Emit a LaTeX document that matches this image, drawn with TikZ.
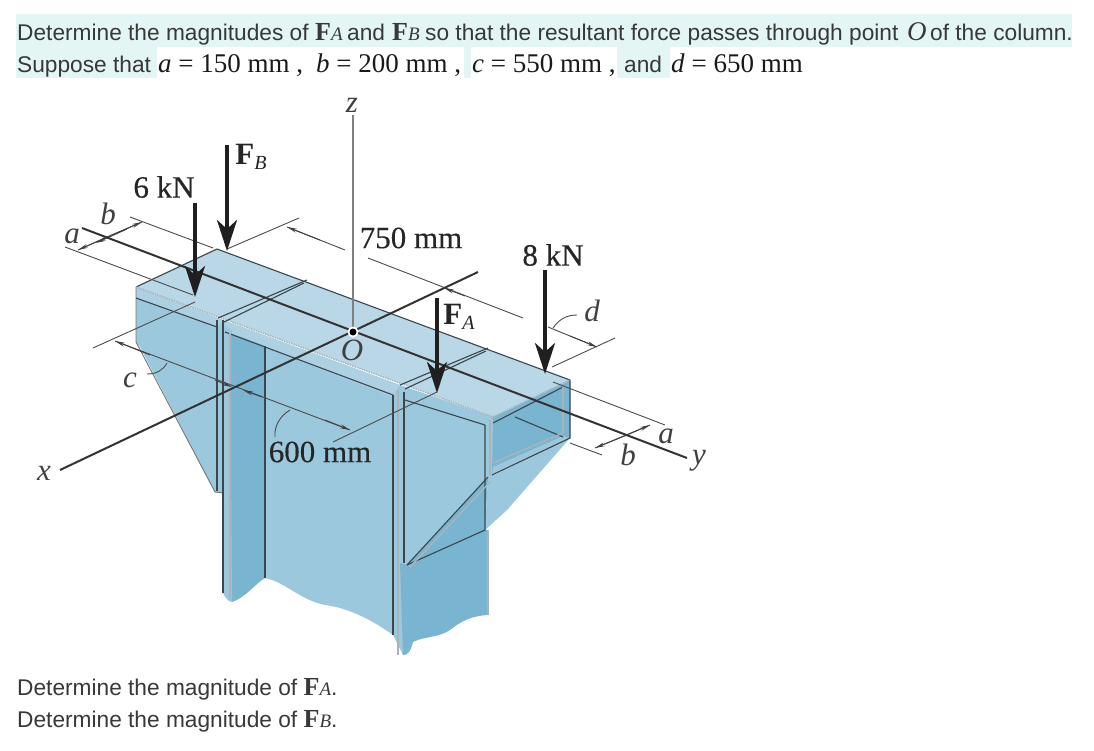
\documentclass[tikz,border=0pt]{standalone}
\usepackage{fontspec}
\setmainfont{Liberation Sans}
\newfontfamily\figfont{Liberation Serif}
\newfontfamily\figheavy[FakeBold=0.35]{Liberation Serif}
\usetikzlibrary{arrows.meta}
\definecolor{hilite}{HTML}{E4F5F5}
\definecolor{toplight}{HTML}{B9D7E7}
\definecolor{facemid}{HTML}{9CC8DD}
\definecolor{facedark}{HTML}{79B5D1}
\definecolor{edgegray}{HTML}{A9B4BA}
\definecolor{inkdark}{HTML}{3A464C}
\newcommand{\vecF}[1]{{\figfont\bfseries\fontsize{26}{28}\selectfont F}{\figfont\itshape\fontsize{19}{22}\selectfont #1}}
\tikzset{
	qtext/.style={anchor=base west, inner sep=0pt, text=black!78, font=\fontsize{22.7}{26}\selectfont},
	qform/.style={anchor=base west, inner sep=0pt, text=black!90, font=\figfont\fontsize{27}{30}\selectfont},
	figlabel/.style={inner sep=0pt, text=black!85, font=\figheavy\fontsize{31}{34}\selectfont},
	figital/.style={inner sep=0pt, text=black!75, font=\figfont\itshape\fontsize{31}{34}\selectfont},
	edge/.style={draw=inkdark, line width=1.1pt},
	soft/.style={draw=edgegray, line width=1.5pt},
	seam/.style={draw=edgegray, line width=1.5pt, densely dotted},
	dimthin/.style={draw=black!70, line width=0.9pt},
	dimtip/.style={draw=black!75, line width=0.9pt, -{Stealth[length=10pt,width=4pt]}},
	force/.style={draw=black!88, line width=4pt, -{Stealth[length=31pt,width=20pt,inset=9pt]}},
	axisline/.style={draw=black!80, line width=2pt}
}
\begin{document}
\begin{tikzpicture}[x=1pt,y=-1pt]
	\useasboundingbox (0,0) rectangle (1094,750);
	% question text
	\fill[hilite] (16,14) rectangle (1072,47);
	\fill[hilite] (16,47) rectangle (157,78);
	\fill[hilite] (464,47) rectangle (471,78);
	\fill[hilite] (617,47) rectangle (670,78);
	\node[qtext] (line1a) at (17,40) {Determine the magnitudes of};
	\node[qtext] (forceA) at (315,40) {\vecF{A}};
	\node[qtext] (line1b) at (347,40) {and};
	\node[qtext] (forceB) at (392,40) {\vecF{B}};
	\node[qtext] (line1c) at (425,40) {so that the resultant force passes through point};
	\node[qtext] (pointO) at (907,40) {{\figfont\itshape\fontsize{27}{28}\selectfont O}};
	\node[qtext] (line1d) at (930,40) {of the column.};
	\node[qtext] (line2a) at (17,72) {Suppose that};
	\node[qform] (valA) at (158,72) {\textit{a} = 150 mm ,};
	\node[qform] (valB) at (316,72) {\textit{b} = 200 mm ,};
	\node[qform] (valC) at (472,72) {\textit{c} = 550 mm ,};
	\node[qtext] (line2b) at (624,72) {and};
	\node[qform] (valD) at (671,72) {\textit{d} = 650 mm};
	\node[qtext] (askA) at (17,695) {Determine the magnitude of \vecF{A}.};
	\node[qtext] (askB) at (17,727) {Determine the magnitude of \vecF{B}.};
	% left bracket and column faces
	\fill[facemid] (136,287) -- (223,320) -- (223,493) -- (215,492) -- (140,347) -- (136,342) -- cycle;
	\fill[facemid] (223,320) -- (400,385) -- (400,400) -- (393,635)
		.. controls (375,622) and (350,608) .. (325,605)
		.. controls (300,600) and (285,582) .. (265,578) -- (265,340) -- cycle;
	\fill[toplight!60!facemid] (223,320) -- (400,385) -- (393,397) -- (225,332) -- cycle;
	\fill[facemid] (223,325) -- (232,330) -- (232,602) .. controls (228,602) and (225,597) .. (223,593) -- cycle;
	\fill[facedark] (230,333) -- (265,346) -- (265,578)
		.. controls (255,584) and (245,598) .. (232,602) -- cycle;
	\fill[toplight!60!facemid] (136,287) -- (223,320) -- (217,327) -- (136,298) -- cycle;
	% right flange and bracket
	\fill[facemid] (393,395) -- (400,385) -- (493,417) -- (493,477) -- (407,565) -- (403,655) -- (393,635) -- cycle;
	\fill[facedark] (400,563) -- (407,565) -- (485,530) -- (488,530) -- (488,615)
		.. controls (470,616) and (460,622) .. (450,630)
		.. controls (438,638) and (425,636) .. (413,642)
		.. controls (411,650) and (408,656) .. (403,655) -- cycle;
	\fill[facemid] (488,478) -- (570,438) -- (507,510) -- (485,530) -- cycle;
	\fill[facedark] (407,565) -- (488,477) -- (485,530) -- cycle;
	\fill[facedark] (493,417) -- (570,380) -- (570,438) -- (492,475) -- cycle;
	\fill[facemid] (493,467) -- (563,436) -- (570,438) -- (492,475) -- cycle;
	% flange top
	\fill[toplight] (136,287) -- (217,249) -- (570,380) -- (493,417) -- cycle;
	% edges of the faces
	\draw[edge] (136,287) -- (217,249) -- (570,380) -- (570,438) -- (492,475);
	\draw[draw=black!55, line width=0.9pt] (136,287) -- (136,342) -- (215,492) -- (223,493);
	\draw[edge] (136,298) -- (217,327);
	\draw[edge] (225,332) -- (393,395);
	\draw[edge] (405,400) -- (485,425);
	\draw[edge] (493,423) -- (563,387);
	\draw[edge] (515,417) -- (563,437);
	\draw[edge] (407,565) -- (485,530) -- (485,425);
	\draw[edge] (407,565) -- (488,477);
	\foreach \x/\y/\z in {217/320/491, 223/320/593, 265/346/578, 393/395/635, 404/392/563}
		\draw[edge] (\x,\y) -- (\x,\z);
	\foreach \x/\y/\z in {230/333/600, 398/390/655, 490/420/475, 563/387/433, 488/530/615}
		\draw[soft] (\x,\y) -- (\x,\z);
	\draw[soft] (410,567) -- (490,482);
	\draw[soft] (493,463) -- (563,433);
	\draw[seam] (136,287) -- (493,417) -- (570,380);
	% bands across the flange top
	\draw[edge] (218,318) -- (307,280);
	\draw[edge] (224,322) -- (304,283);
	\draw[edge] (400,385) -- (488,348);
	\draw[edge] (405,389) -- (486,351);
	% dimensions
	\foreach \a/\b/\c/\d in {130/217/213/248, 65/247/193/295, 227/249/299/218, 93/348/195/302, 333/442/437/392, 552/367/615/338, 553/382/665/425, 570/443/602/455, 345/250/287/227, 368/258/523/318, 115/341/350/430, 548/327/597/347, 595/448/650/425, 78/250/142/222}
		\draw[dimthin] (\a,\b) -- (\c,\d);
	\foreach \a/\b/\c/\d in {107/237/142/222, 107/237/78/250, 127/229/96/243, 320/240/287/227, 465/296/444/288, 150/355/115/341, 215/380/232/387, 262/397/243/390, 325/420/350/430, 570/336/597/347, 627/435/595/448, 627/435/650/425}
		\draw[dimtip] (\a,\b) -- (\c,\d);
	\draw[dimthin] (167,363) .. controls (163,370) and (157,374) .. (147,374);
	\draw[dimthin] (290,410) .. controls (280,416) and (274,426) .. (275,437);
	\draw[dimthin] (553,328) .. controls (560,318) and (568,315) .. (577,315);
	% axes through the column
	\coordinate (O) at (353,332);
	\coordinate (zTop) at (353,115);
	\coordinate (xEnd) at (60,470);
	\coordinate (xBack) at (478,272);
	\coordinate (yBack) at (82,228);
	\coordinate (yEnd) at (687,458);
	\draw[draw=black!50, line width=1.8pt] (zTop) -- (O);
	\draw[axisline] (xEnd) -- (xBack);
	\draw[axisline] (yBack) -- (yEnd);
	\fill[white] (O) circle (5.5);
	\fill[black] (O) circle (3.5);
	% loads
	\coordinate (sixTop) at (195,203);
	\coordinate (sixTip) at (195,297);
	\coordinate (fbTop) at (227,145);
	\coordinate (fbTip) at (227,251);
	\coordinate (faTop) at (437,298);
	\coordinate (faTip) at (437,393);
	\coordinate (eightTop) at (545,270);
	\coordinate (eightTip) at (545,374);
	\foreach \x in {six, fb, fa, eight}
		\draw[force] (\x Top) -- (\x Tip);
	% labels
	\node[figital] (zLabel) at (352,105) {z};
	\node[figital] (xLabel) at (44,473) {x};
	\node[figital] (yLabel) at (699,461) {y};
	\node[figital] (oLabel) at (352,350) {O};
	\node[figital] (aLeft) at (72,236) {a};
	\node[figital] (bLeft) at (108,214) {b};
	\node[figital] (cLeft) at (130,380) {c};
	\node[figital] (dRight) at (592,311) {d};
	\node[figital] (aRight) at (666,436) {a};
	\node[figital] (bRight) at (628,455) {b};
	\node[figlabel] (sixLabel) at (164,187) {6 kN};
	\node[figlabel] (eightLabel) at (553,255) {8 kN};
	\node[figlabel] (lenA) at (411,238) {750 mm};
	\node[figlabel] (lenB) at (320,452) {600 mm};
	\node[figlabel] (fbLabel) at (251,157) {{\figfont\bfseries F}{\figfont\itshape\fontsize{20}{22}\selectfont\raisebox{-5pt}{B}}};
	\node[figlabel] (faLabel) at (459,317) {{\figfont\bfseries F}{\figfont\itshape\fontsize{20}{22}\selectfont\raisebox{-5pt}{A}}};
\end{tikzpicture}
\end{document}
